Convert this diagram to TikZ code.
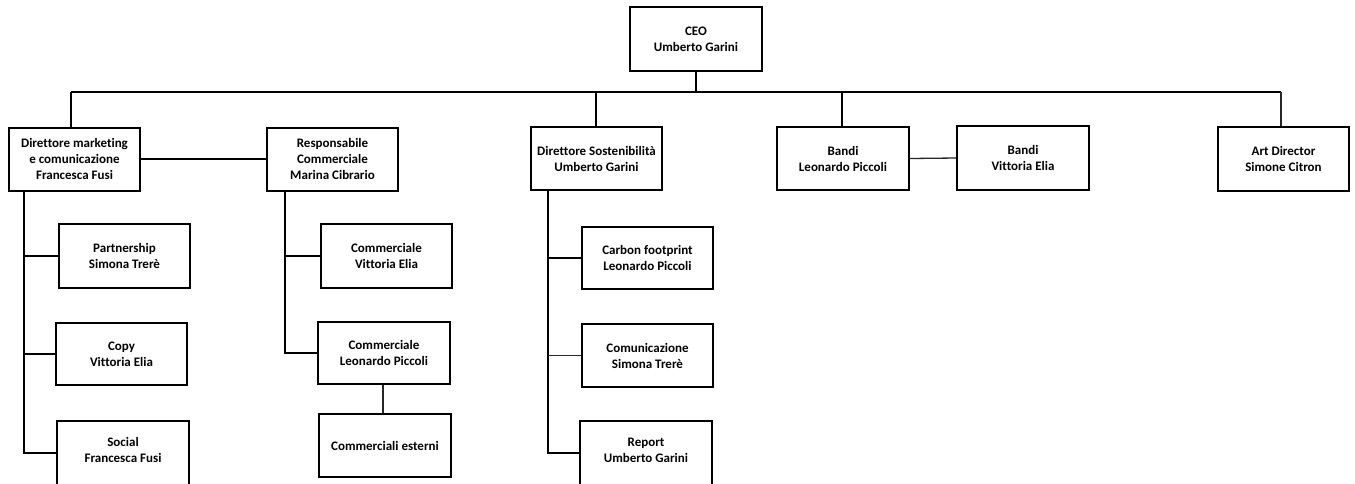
\documentclass[tikz,border=0pt]{standalone}
\usepackage{fontspec}
\setmainfont{Carlito}[Ligatures=NoCommon]
\begin{document}
\begin{tikzpicture}[x=1pt,y=-1pt,
  orgbox/.style={draw=black, line width=2pt, fill=white, inner sep=0pt,
    minimum width=131pt, minimum height=63pt, align=center,
    font=\bfseries\fontsize{13}{16}\selectfont},
  link/.style={draw=black, line width=2pt},
  thinlink/.style={draw=black!85, line width=1.3pt}]
\useasboundingbox (0,0) rectangle (1355,483);
\clip (0,0) rectangle (1355,483);
\fill[white] (0,0) rectangle (1355,483);

% top level
\node[orgbox, minimum width=132pt, minimum height=64pt] (ceo) at (696,39) {CEO\\Umberto Garini};

% second level
\node[orgbox] (dmk)    at (74.5,159)  {Direttore marketing\\e comunicazione\\Francesca Fusi};
\node[orgbox] (resp)   at (332.5,159) {Responsabile\\Commerciale\\Marina Cibrario};
\node[orgbox] (dsost)  at (596.5,158.5) {Direttore Sostenibilità\\Umberto Garini};
\node[orgbox, minimum width=132pt] (bandia) at (843,158.5) {Bandi\\Leonardo Piccoli};
\node[orgbox, minimum width=132pt, minimum height=64pt] (bandib) at (1023,158) {Bandi\\Vittoria Elia};
\node[orgbox, minimum height=64pt] (art) at (1283.5,159) {Art Director\\Simone Citron};

% marketing team
\node[orgbox, minimum height=64pt] (part) at (124.5,256) {Partnership\\Simona Trerè};
\node[orgbox, minimum height=62pt] (copy) at (121.5,354) {Copy\\Vittoria Elia};
\node[orgbox, minimum width=132pt, minimum height=64pt] (social) at (123,453) {Social\\Francesca Fusi\\[-10pt]};

% sales team
\node[orgbox, minimum height=64pt] (cve) at (386.5,256) {Commerciale\\Vittoria Elia};
\node[orgbox, minimum width=132pt, minimum height=62pt] (clp) at (384,353) {Commerciale\\Leonardo Piccoli};
\node[orgbox, minimum width=132pt] (est) at (385,445.5) {Commerciali esterni};

% sustainability team
\node[orgbox, minimum height=62pt] (carbon) at (647.5,258) {Carbon footprint\\Leonardo Piccoli};
\node[orgbox] (comun) at (647.5,355.5) {Comunicazione\\Simona Trerè};
\node[orgbox, minimum width=132pt, minimum height=64pt] (report) at (646,453) {Report\\Umberto Garini\\[-10pt]};

% bus under the CEO
\coordinate (busl) at (71,92);
\coordinate (busr) at (1281,92);
\coordinate (bsost) at (596,92);
\coordinate (bbandi) at (842,92);
\draw[link] (ceo.south) -- (ceo.south |- busl);
\draw[link] (busl) -- (busr);
\draw[link] (busl) -- (busl |- dmk.north);
\draw[link] (bsost) -- (bsost |- dsost.north);
\draw[link] (bbandi) -- (bbandi |- bandia.north);
\draw[thinlink] (busr) -- (busr |- art.north);

% side links
\draw[link] (dmk.east) -- (resp.west);
\draw[thinlink] (bandia.east) -- (bandib.west);

% marketing spine
\coordinate (spm) at (24,0);
\draw[link] (dmk.south -| spm) -- (spm |- social.west) -- (social.west);
\draw[link] (spm |- part.west) -- (part.west);
\draw[link] (spm |- copy.west) -- (copy.west);

% sales spine
\coordinate (sps) at (285,0);
\draw[link] (resp.south -| sps) -- (sps |- clp.west) -- (clp.west);
\draw[link] (sps |- cve.west) -- (cve.west);
\coordinate (spe) at (383,0);
\draw[thinlink] (clp.south -| spe) -- (est.north -| spe);

% sustainability spine
\coordinate (spt) at (548,0);
\draw[link] (dsost.south -| spt) -- (spt |- report.west) -- (report.west);
\draw[link] (spt |- carbon.west) -- (carbon.west);
\draw[thinlink] (spt |- comun.west) -- (comun.west);
\end{tikzpicture}
\end{document}
